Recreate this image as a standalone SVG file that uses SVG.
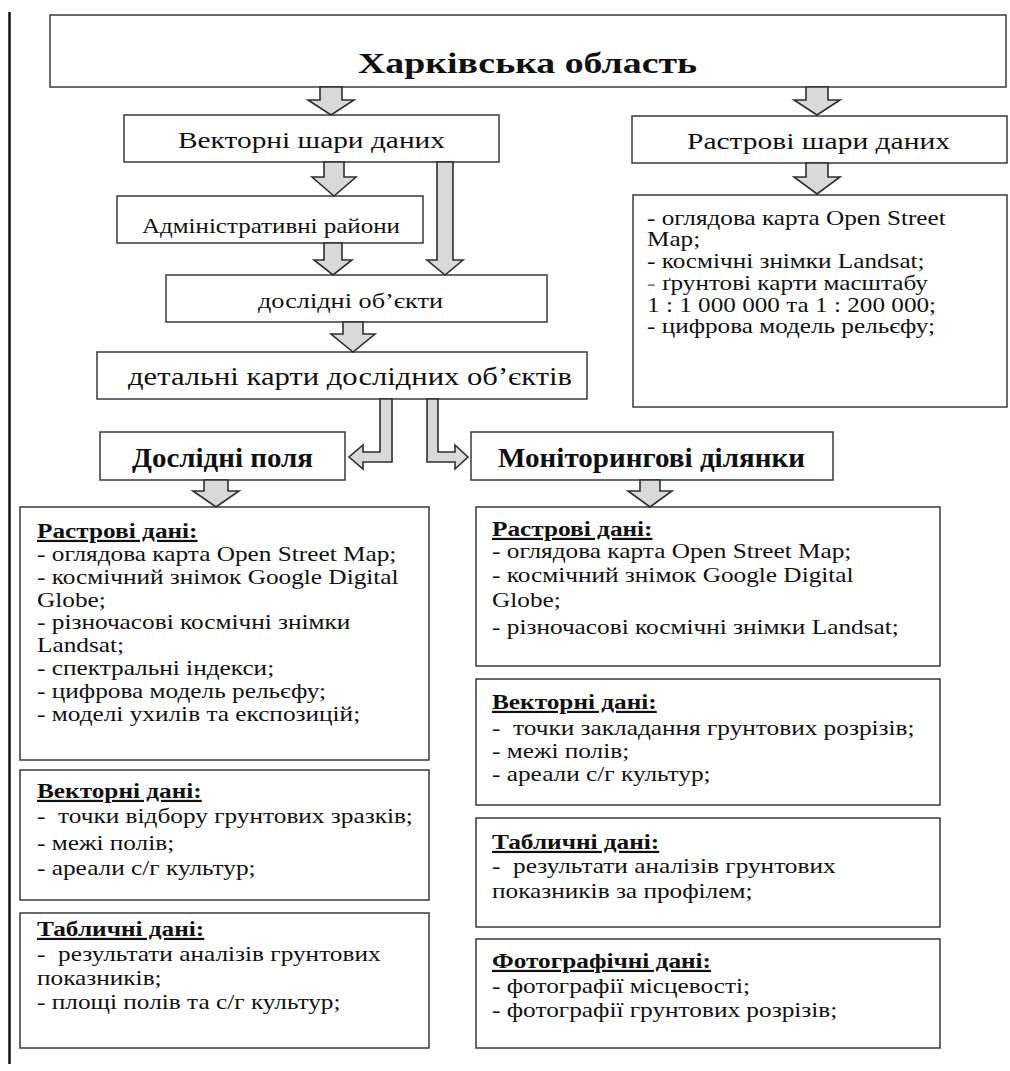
<svg xmlns="http://www.w3.org/2000/svg" width="1010" height="1071" viewBox="0 0 1010 1071">
<style>
text{font-family:"Liberation Serif","Times New Roman",serif;fill:#111}
.box{fill:#fff;stroke:#3a3a3a;stroke-width:1.5}
.arr{fill:#d9d9d9;stroke:#2e2e2e;stroke-width:1.6;stroke-linejoin:miter}
.t22{font-size:22px}
.t21{font-size:21px}
.bold{font-weight:bold}
.hd{font-weight:bold;text-decoration:underline}
.pre{white-space:pre}
</style>
<rect width="1010" height="1071" fill="#fff"/>
<line x1="9.5" y1="12" x2="9.5" y2="1064" stroke="#111" stroke-width="2.5"/>

<g id="title"><rect class="box" x="50" y="15" width="956" height="72"/><text x="358" y="73" class="bold" font-size="30" textLength="339" lengthAdjust="spacingAndGlyphs">Харківська область</text></g>
<g id="vector"><rect class="box" x="124" y="115" width="375" height="47"/><text x="178" y="148" font-size="24" textLength="267" lengthAdjust="spacingAndGlyphs">Векторні шари даних</text></g>
<g id="raster"><rect class="box" x="632" y="116" width="375" height="47"/><text x="687" y="149" font-size="24" textLength="263" lengthAdjust="spacingAndGlyphs">Растрові шари даних</text></g>
<g id="rasterList"><rect class="box" x="633" y="195" width="374" height="212"/>
<g transform="translate(647,0) scale(1.2,1)"><text class="t21"><tspan x="0" y="225">- оглядова карта Open Street</tspan><tspan x="0" y="246">Map;</tspan><tspan x="0" y="268">- космічні знімки Landsat;</tspan><tspan x="0" y="290"><tspan fill="#777">-</tspan> ґрунтові карти масштабу</tspan><tspan x="0" y="312">1 : 1 000 000 та 1 : 200 000;</tspan><tspan x="0" y="333">- цифрова модель рельєфу;</tspan></text></g></g>
<g id="admin"><rect class="box" x="117" y="196" width="306" height="47"/><text x="142" y="233" font-size="21" textLength="258" lengthAdjust="spacingAndGlyphs">Адміністративні райони</text></g>
<g id="objects"><rect class="box" x="166" y="275" width="381" height="47"/><text x="258" y="308" font-size="21" textLength="185" lengthAdjust="spacingAndGlyphs">дослідні об’єкти</text></g>
<g id="detail"><rect class="box" x="97" y="352" width="490" height="47"/><text x="128" y="385" font-size="25" textLength="444" lengthAdjust="spacingAndGlyphs">детальні карти дослідних об’єктів</text></g>
<g id="fields"><rect class="box" x="100" y="432" width="245" height="48"/><text x="132" y="467" class="bold" font-size="28" textLength="181" lengthAdjust="spacingAndGlyphs">Дослідні поля</text></g>
<g id="monitoring"><rect class="box" x="471" y="432" width="362" height="48"/><text x="498" y="467" class="bold" font-size="28" textLength="307" lengthAdjust="spacingAndGlyphs">Моніторингові ділянки</text></g>

<g id="fieldsRaster"><rect class="box" x="20" y="507" width="409" height="253"/>
<g transform="translate(37,0) scale(1.15,1)"><text class="t22 pre"><tspan x="0" y="538" class="hd">Растрові дані:</tspan><tspan x="0" y="561">- оглядова карта Open Street Map;</tspan><tspan x="0" y="584">- космічний знімок Google Digital</tspan><tspan x="0" y="607">Globe;</tspan><tspan x="0" y="629">- різночасові космічні знімки</tspan><tspan x="0" y="652">Landsat;</tspan><tspan x="0" y="675">- спектральні індекси;</tspan><tspan x="0" y="698">- цифрова модель рельєфу;</tspan><tspan x="0" y="721">- моделі ухилів та експозицій;</tspan></text></g></g>
<g id="fieldsVector"><rect class="box" x="20" y="770" width="409" height="130"/>
<g transform="translate(37,0) scale(1.15,1)"><text class="t22 pre"><tspan x="0" y="798" class="hd">Векторні дані:</tspan><tspan x="0" y="823">-  точки відбору грунтових зразків;</tspan><tspan x="0" y="850">- межі полів;</tspan><tspan x="0" y="875">- ареали с/г культур;</tspan></text></g></g>
<g id="fieldsTable"><rect class="box" x="20" y="913" width="409" height="135"/>
<g transform="translate(37,0) scale(1.15,1)"><text class="t22 pre"><tspan x="0" y="936" class="hd">Табличні дані:</tspan><tspan x="0" y="961">-  результати аналізів грунтових</tspan><tspan x="0" y="985">показників;</tspan><tspan x="0" y="1009">- площі полів та с/г культур;</tspan></text></g></g>

<g id="monRaster"><rect class="box" x="476" y="507" width="464" height="159"/>
<g transform="translate(492,0) scale(1.15,1)"><text class="t22 pre"><tspan x="0" y="536" class="hd">Растрові дані:</tspan><tspan x="0" y="558">- оглядова карта Open Street Map;</tspan><tspan x="0" y="582">- космічний знімок Google Digital</tspan><tspan x="0" y="607">Globe;</tspan><tspan x="0" y="634">- різночасові космічні знімки Landsat;</tspan></text></g></g>
<g id="monVector"><rect class="box" x="476" y="679" width="464" height="126"/>
<g transform="translate(492,0) scale(1.15,1)"><text class="t22 pre"><tspan x="0" y="709" class="hd">Векторні дані:</tspan><tspan x="0" y="735">-  точки закладання грунтових розрізів;</tspan><tspan x="0" y="758">- межі полів;</tspan><tspan x="0" y="781">- ареали с/г культур;</tspan></text></g></g>
<g id="monTable"><rect class="box" x="476" y="818" width="464" height="109"/>
<g transform="translate(492,0) scale(1.15,1)"><text class="t22 pre"><tspan x="0" y="849" class="hd">Табличні дані:</tspan><tspan x="0" y="873">-  результати аналізів грунтових</tspan><tspan x="0" y="898">показників за профілем;</tspan></text></g></g>
<g id="monPhoto"><rect class="box" x="476" y="939" width="464" height="109"/>
<g transform="translate(492,0) scale(1.15,1)"><text class="t22 pre"><tspan x="0" y="968" class="hd">Фотографічні дані:</tspan><tspan x="0" y="993">- фотографії місцевості;</tspan><tspan x="0" y="1017">- фотографії грунтових розрізів;</tspan></text></g></g>

<g id="connectors">
<path class="arr" d="M320,87 V100 H308 L331,115 L354,100 H342 V87 Z"/>
<path class="arr" d="M806,87 V100 H794 L817,115 L840,100 H828 V87 Z"/>
<path class="arr" d="M806,163 V177 H794 L817,194 L840,177 H828 V163 Z"/>
<path class="arr" d="M324,162 V177 H312 L334,196 L356,177 H344 V162 Z"/>
<path class="arr" d="M324,243 V260 H314 L333,275 L352,260 H342 V243 Z"/>
<path class="arr" d="M437,162 V260 H427 L445,275 L463,260 H453 V162 Z"/>
<path class="arr" d="M343,322 V334 H331 L353,352 L375,334 H363 V322 Z"/>
<path class="arr" d="M380,399 V452 H363 V445 L349,457 L363,469 V462 H392 V399 Z"/>
<path class="arr" d="M427,399 V462 H455 V469 L468,457 L455,445 V452 H438 V399 Z"/>
<path class="arr" d="M204,480 V491 H193 L216,507 L239,491 H228 V480 Z"/>
<path class="arr" d="M640,480 V491 H628 L650,507 L672,491 H660 V480 Z"/>
</g>
</svg>
